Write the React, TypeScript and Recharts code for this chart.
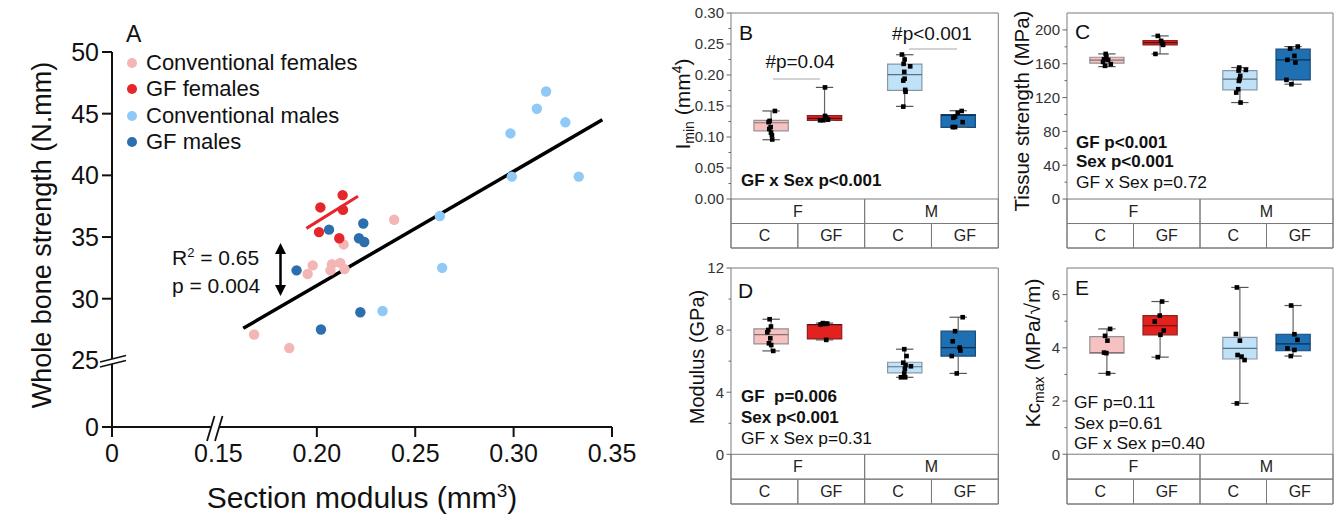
import React from 'react';
import { ScatterChart, Scatter, XAxis, YAxis, ReferenceLine, ReferenceArea, Legend } from 'recharts';

const FONT = '"Liberation Sans", Arial, Helvetica, sans-serif';

// ---------- Panel A: section modulus (mm3) vs whole bone strength (N.mm)
const convFemales = [
  { x: 0.2393, y: 36.4 }, { x: 0.2136, y: 34.4 }, { x: 0.1979, y: 32.7 }, { x: 0.1953, y: 32.0 },
  { x: 0.2077, y: 32.8 }, { x: 0.2119, y: 32.9 }, { x: 0.2069, y: 32.3 }, { x: 0.2141, y: 32.4 },
  { x: 0.1681, y: 27.1 }, { x: 0.186, y: 26.0 },
];
const gfFemales = [
  { x: 0.2131, y: 38.4 }, { x: 0.2018, y: 37.4 }, { x: 0.2133, y: 37.2 }, { x: 0.2011, y: 35.4 },
  { x: 0.2114, y: 34.9 },
];
const convMales = [
  { x: 0.3165, y: 46.8 }, { x: 0.3118, y: 45.4 }, { x: 0.3263, y: 44.3 }, { x: 0.2984, y: 43.4 },
  { x: 0.2991, y: 39.9 }, { x: 0.3331, y: 39.9 }, { x: 0.2625, y: 36.7 }, { x: 0.2637, y: 32.5 },
  { x: 0.2334, y: 29.0 },
];
const gfMales = [
  { x: 0.2062, y: 35.6 }, { x: 0.2236, y: 36.1 }, { x: 0.2214, y: 34.9 }, { x: 0.2241, y: 34.6 },
  { x: 0.1897, y: 32.3 }, { x: 0.2221, y: 28.9 }, { x: 0.2021, y: 27.5 },
];
const legendOrder = ['Conventional females', 'GF females', 'Conventional males', 'GF males'];
// regression lines (end points)
const fitAll = [{ x: 0.1626, y: 27.6 }, { x: 0.3451, y: 44.5 }];
const fitGfFemales = [{ x: 0.1947, y: 35.7 }, { x: 0.2209, y: 38.3 }];

// broken axes: where "0" sits on each axis
const X_ZERO = 0.0959;
const Y_ZERO = 19.6;
const xTicksA = [X_ZERO, 0.15, 0.2, 0.25, 0.3, 0.35];
const yTicksA = [Y_ZERO, 25, 30, 35, 40, 45, 50];

const PINK = '#f4b5b5';
const RED = '#e5262b';
const LBLUE = '#8ec9f7';
const DBLUE = '#2b6fae';

// ---------- Panels B-E: box plots, groups F-C, F-GF, M-C, M-GF
type Box = [number, number, number, number, number]; // min, q1, median, q3, max
type Pts = [number, number][]; // [x jitter, value]

const GROUP_X = [0.6, 1.4, 2.6, 3.4];
const BOX_HALF = 0.257;
const CAP_HALF = 0.13;
const GROUP_FILL = ['#f7c1c1', '#e3211f', '#bfe2f8', '#1f6fb3'];
const GROUP_STROKE = ['#939393', '#8a2222', '#8a98a6', '#1a4a78'];
const MEDIAN_STROKE = ['#8a7070', '#5a1010', '#5a6f80', '#0d2f50'];
const FRAME = '#7a7a7a';

// B: I min (mm4)
const iminBoxes: Box[] = [
  [0.0956, 0.11, 0.123, 0.1268, 0.142],
  [0.1268, 0.1268, 0.13, 0.1344, 0.18],
  [0.1494, 0.1752, 0.2005, 0.2177, 0.2327],
  [0.1155, 0.1155, 0.135, 0.136, 0.1424],
];
const iminCF: Pts = [[0.057, 0.142], [-0.022, 0.126], [-0.037, 0.124], [-0.007, 0.116], [-0.027, 0.113], [-0.002, 0.107], [0.012, 0.103], [0.017, 0.096]];
const iminGFF: Pts = [[0.007, 0.18], [0.007, 0.134], [0.027, 0.131], [0.052, 0.128], [-0.067, 0.127], [-0.017, 0.127]];
const iminCM: Pts = [[-0.042, 0.233], [-0.002, 0.225], [-0.017, 0.218], [0.082, 0.214], [-0.007, 0.205], [-0.002, 0.194], [-0.022, 0.191], [0.007, 0.176], [0.012, 0.173], [-0.022, 0.149]];
const iminGFM: Pts = [[0.052, 0.142], [-0.007, 0.139], [-0.047, 0.133], [-0.072, 0.131], [0.067, 0.124], [-0.082, 0.116], [-0.047, 0.116]];

// C: tissue strength (MPa)
const strBoxes: Box[] = [
  [156.6, 160.7, 164.2, 167.7, 171.6],
  [171.6, 182.3, 185, 187.4, 192.9],
  [114.1, 129.1, 141.8, 151.9, 155.5],
  [135.8, 140.9, 164.6, 177.2, 180.3],
];
const strCF: Pts = [[-0.018, 171.6], [-0.008, 168.5], [-0.043, 165.4], [0.018, 164.6], [-0.058, 162.2], [0.058, 159.5], [-0.028, 157.5]];
const strGFF: Pts = [[-0.035, 192.9], [0.015, 187], [0.03, 184.3], [0.045, 182.3], [-0.07, 171.6]];
const strCM: Pts = [[-0.01, 155.5], [0.09, 152.7], [-0.02, 151.9], [0.005, 145.7], [-0.005, 141.8], [-0.015, 139.7], [-0.025, 129.9], [-0.055, 125.9], [0.01, 114.1]];
const strGFM: Pts = [[0.07, 180.3], [-0.045, 177.9], [0.02, 169.3], [-0.085, 164.6], [0.035, 161.4], [-0.1, 140.9], [-0.025, 135.8]];

// D: modulus (GPa)
const modBoxes: Box[] = [
  [6.66, 7.11, 7.71, 8.08, 8.7],
  [7.37, 7.43, 8.35, 8.36, 8.45],
  [4.96, 5.25, 5.64, 5.93, 6.77],
  [5.21, 6.33, 6.87, 7.93, 8.83],
];
const modCF: Pts = [[-0.022, 8.7], [-0.002, 8.23], [-0.042, 8.01], [-0.057, 7.86], [-0.012, 7.47], [-0.032, 7.15], [0.002, 7.04], [0.032, 6.66]];
const modGFF: Pts = [[-0.06, 8.36], [-0.025, 8.45], [0.04, 8.42], [0.015, 8.4], [0.025, 7.37]];
const modCM: Pts = [[-0.007, 6.77], [0.027, 6.33], [-0.022, 5.9], [0.012, 5.75], [0.092, 5.67], [0.002, 5.49], [-0.007, 5.21], [-0.057, 4.96], [0.007, 4.96]];
const modGFM: Pts = [[0.067, 8.83], [-0.047, 7.93], [-0.082, 7.28], [0.022, 6.87], [0.032, 6.68], [-0.097, 6.33], [-0.022, 5.21]];

// E: Kc max (MPa/sqrt m)
const kcBoxes: Box[] = [
  [3.04, 3.8, 3.82, 4.42, 4.71],
  [3.65, 4.49, 4.83, 5.21, 5.74],
  [1.91, 3.58, 3.98, 4.39, 6.27],
  [3.69, 3.89, 4.15, 4.51, 5.59],
];
const kcCF: Pts = [[0.048, 4.71], [-0.028, 4.45], [0.008, 4.27], [-0.043, 3.82], [-0.008, 3.8], [0.018, 3.04]];
const kcGFF: Pts = [[0.03, 5.74], [-0.005, 5.21], [-0.08, 4.99], [0.055, 4.65], [0.005, 4.49], [-0.035, 3.65]];
const kcCM: Pts = [[-0.045, 6.27], [-0.06, 4.52], [0, 4.27], [-0.035, 3.73], [0.025, 3.67], [0.07, 3.54], [-0.045, 1.91]];
const kcGFM: Pts = [[-0.03, 5.59], [0.02, 4.51], [0.065, 4.3], [-0.085, 3.98], [0.02, 3.92], [-0.035, 3.69]];

const dot = (color: string) => (p: any) => <circle cx={p.cx} cy={p.cy} r={5.2} fill={color} />;
const square = (p: any) => <rect x={p.cx - 2.3} y={p.cy - 2.3} width={4.6} height={4.6} fill="#000" />;

const renderXTickA = (p: any) => {
  const v = p.payload.value;
  return (
    <g>
      {v !== 0.15 && <line x1={p.x} x2={p.x} y1={p.y} y2={p.y + 10} stroke="#111" strokeWidth={2} />}
      <text x={p.x} y={p.y + 35} textAnchor="middle" fontSize={25} fill="#111" fontFamily={FONT}>
        {v === X_ZERO ? '0' : v.toFixed(2)}
      </text>
    </g>
  );
};

const renderYTickA = (p: any) => {
  const v = p.payload.value;
  return (
    <g>
      {v !== 25 && <line x1={p.x} x2={p.x - 10} y1={p.y} y2={p.y} stroke="#111" strokeWidth={2} />}
      <text x={p.x - 13} y={p.y + 9} textAnchor="end" fontSize={25} fill="#111" fontFamily={FONT}>
        {v === Y_ZERO ? '0' : String(v)}
      </text>
    </g>
  );
};

const renderLegendA = (props: any) => {
  const items = [...(props.payload || [])].sort(
    (a: any, b: any) => legendOrder.indexOf(a.value) - legendOrder.indexOf(b.value),
  );
  return (
    <div style={{ fontFamily: FONT, fontSize: 22, color: '#111' }}>
      {items.map((e: any) => (
        <div key={e.value} style={{ display: 'flex', alignItems: 'center', height: 26.3 }}>
          <span style={{ width: 10, height: 10, borderRadius: 5, background: e.color, marginRight: 9, flex: 'none' }} />
          <span style={{ whiteSpace: 'nowrap' }}>{e.value}</span>
        </div>
      ))}
    </div>
  );
};

function PanelA() {
  return (
    <div style={{ position: 'absolute', left: 0, top: 0 }}>
      <ScatterChart width={640} height={523} margin={{ top: 52, right: 28, bottom: 0, left: 0 }}>
        <XAxis
          type="number"
          dataKey="x"
          domain={[X_ZERO, 0.35]}
          ticks={xTicksA}
          interval={0}
          height={96}
          allowDataOverflow
          tickSize={0}
          tickMargin={0}
          tickLine={false}
          axisLine={{ stroke: '#111', strokeWidth: 2 }}
          tick={renderXTickA}
        />
        <YAxis
          type="number"
          dataKey="y"
          domain={[Y_ZERO, 50]}
          ticks={yTicksA}
          interval={0}
          width={112}
          allowDataOverflow
          tickSize={0}
          tickMargin={0}
          tickLine={false}
          axisLine={{ stroke: '#111', strokeWidth: 2 }}
          tick={renderYTickA}
        />
        <Legend
          layout="vertical"
          align="center"
          verticalAlign="middle"
          content={renderLegendA}
          wrapperStyle={{ left: 127, top: 50, width: 280 }}
        />
        <ReferenceLine segment={fitAll} stroke="#000" strokeWidth={3.5} />
        <ReferenceLine segment={fitGfFemales} stroke={RED} strokeWidth={3} />
        <Scatter name="Conventional females" data={convFemales} fill={PINK} shape={dot(PINK)} isAnimationActive={false} />
        <Scatter name="GF females" data={gfFemales} fill={RED} shape={dot(RED)} isAnimationActive={false} />
        <Scatter name="Conventional males" data={convMales} fill={LBLUE} shape={dot(LBLUE)} isAnimationActive={false} />
        <Scatter name="GF males" data={gfMales} fill={DBLUE} shape={dot(DBLUE)} isAnimationActive={false} />
      </ScatterChart>
    </div>
  );
}

interface PanelProps {
  left: number;
  top: number;
  width: number;
  height: number;
  yMin: number;
  yTop: number;
  major: number[];
  minor: number[];
  fmt: (v: number) => string;
  boxes: Box[];
  points: Pts[];
}

function BoxPanel({ left, top, width, height, yMin, yTop, major, minor, fmt, boxes, points }: PanelProps) {
  const row = yMin / 2;
  const renderTick = (p: any) => {
    const v = p.payload.value;
    const isMajor = major.includes(v);
    return (
      <g>
        <line x1={p.x} x2={p.x - (isMajor ? 4.5 : 2.5)} y1={p.y} y2={p.y} stroke="#666" />
        {isMajor && (
          <text x={p.x - 7} y={p.y + 5.3} textAnchor="end" fontSize={15} fill="#333" fontFamily={FONT}>
            {fmt(v)}
          </text>
        )}
      </g>
    );
  };
  const cellLabel = (value: string) => ({ value, position: 'center' as const, fontSize: 16, fill: '#222', fontFamily: FONT });
  return (
    <div style={{ position: 'absolute', left: left - 60, top: top - 10 }}>
      <ScatterChart width={width + 70} height={height + 20} margin={{ top: 10, right: 10, bottom: 10, left: 0 }}>
        <XAxis type="number" dataKey="x" domain={[0, 4]} hide allowDataOverflow />
        <YAxis
          type="number"
          dataKey="y"
          domain={[yMin, yTop]}
          ticks={[...major, ...minor]}
          interval={0}
          width={60}
          allowDataOverflow
          axisLine={false}
          tickLine={false}
          tickSize={0}
          tickMargin={0}
          tick={renderTick}
        />
        <ReferenceArea x1={0} x2={4} y1={yMin} y2={yTop} fill="none" stroke={FRAME} />
        <ReferenceArea x1={0} x2={2} y1={row} y2={0} fill="none" stroke={FRAME} label={cellLabel('F')} />
        <ReferenceArea x1={2} x2={4} y1={row} y2={0} fill="none" stroke={FRAME} label={cellLabel('M')} />
        <ReferenceArea x1={0} x2={1} y1={yMin} y2={row} fill="none" stroke={FRAME} label={cellLabel('C')} />
        <ReferenceArea x1={1} x2={2} y1={yMin} y2={row} fill="none" stroke={FRAME} label={cellLabel('GF')} />
        <ReferenceArea x1={2} x2={3} y1={yMin} y2={row} fill="none" stroke={FRAME} label={cellLabel('C')} />
        <ReferenceArea x1={3} x2={4} y1={yMin} y2={row} fill="none" stroke={FRAME} label={cellLabel('GF')} />
        {boxes.map((b, i) => {
          const c = GROUP_X[i];
          const [mn, q1, md, q3, mx] = b;
          return [
            <ReferenceLine key={`wu${i}`} segment={[{ x: c, y: q3 }, { x: c, y: mx }]} stroke="#666" strokeWidth={1.2} />,
            <ReferenceLine key={`wl${i}`} segment={[{ x: c, y: mn }, { x: c, y: q1 }]} stroke="#666" strokeWidth={1.2} />,
            <ReferenceLine key={`cu${i}`} segment={[{ x: c - CAP_HALF, y: mx }, { x: c + CAP_HALF, y: mx }]} stroke="#555" strokeWidth={1.2} />,
            <ReferenceLine key={`cl${i}`} segment={[{ x: c - CAP_HALF, y: mn }, { x: c + CAP_HALF, y: mn }]} stroke="#555" strokeWidth={1.2} />,
            <ReferenceArea key={`bx${i}`} x1={c - BOX_HALF} x2={c + BOX_HALF} y1={q1} y2={q3} fill={GROUP_FILL[i]} fillOpacity={1} stroke={GROUP_STROKE[i]} strokeWidth={1.2} />,
            <ReferenceLine key={`md${i}`} segment={[{ x: c - BOX_HALF, y: md }, { x: c + BOX_HALF, y: md }]} stroke={MEDIAN_STROKE[i]} strokeWidth={1.2} />,
          ];
        })}
        {points.map((pts, i) => (
          <Scatter
            key={`pt${i}`}
            data={pts.map(([dx, v]) => ({ x: GROUP_X[i] + dx, y: v }))}
            fill="#000"
            shape={square}
            isAnimationActive={false}
          />
        ))}
      </ScatterChart>
    </div>
  );
}

function Overlay() {
  const bold = { fontWeight: 700 } as const;
  return (
    <svg
      width={1342}
      height={523}
      style={{ position: 'absolute', left: 0, top: 0, pointerEvents: 'none' }}
      fontFamily={FONT}
      fill="#111"
    >
      {/* panel A */}
      <text x={126} y={41.7} fontSize={23}>A</text>
      <text transform="translate(51,235) rotate(-90)" textAnchor="middle" fontSize={27}>Whole bone strength (N.mm)</text>
      <text x={362} y={508} textAnchor="middle" fontSize={30}>
        Section modulus (mm<tspan dy={-11} fontSize={19}>3</tspan><tspan dy={11}>)</tspan>
      </text>
      <text x={172} y={265} fontSize={21}>
        R<tspan dy={-8} fontSize={13}>2</tspan><tspan dy={8}> = 0.65</tspan>
      </text>
      <text x={172} y={293} fontSize={21}>p = 0.004</text>
      <line x1={280.5} x2={280.5} y1={250} y2={289} stroke="#000" strokeWidth={2.5} />
      <polygon points="280.5,243 275,254 286,254" fill="#000" />
      <polygon points="280.5,296 275,285 286,285" fill="#000" />
      {/* axis breaks */}
      <polygon points="100,362 126,355.5 126,360.5 100,367" fill="#fff" />
      <line x1={100} y1={362} x2={126} y2={355.5} stroke="#111" strokeWidth={1.8} />
      <line x1={100} y1={367} x2={126} y2={360.5} stroke="#111" strokeWidth={1.8} />
      <polygon points="207,441 214.5,416 222.5,416 215,441" fill="#fff" />
      <line x1={207} y1={441} x2={214.5} y2={416} stroke="#111" strokeWidth={1.8} />
      <line x1={215} y1={441} x2={222.5} y2={416} stroke="#111" strokeWidth={1.8} />

      {/* panel B */}
      <text x={739} y={40} fontSize={21}>B</text>
      <text transform="translate(690,104) rotate(-90)" textAnchor="middle" fontSize={21}>
        I<tspan fontSize={14} dy={4}>min</tspan><tspan dy={-4}> (mm</tspan><tspan fontSize={14} dy={-8}>4</tspan><tspan dy={8}>)</tspan>
      </text>
      <text x={800} y={68} textAnchor="middle" fontSize={19}>#p=0.04</text>
      <line x1={773} x2={820} y1={79} y2={79} stroke="#c4c4c4" strokeWidth={1.5} />
      <text x={932} y={40} textAnchor="middle" fontSize={19}>#p&lt;0.001</text>
      <line x1={909} x2={957} y1={49} y2={49} stroke="#c4c4c4" strokeWidth={1.5} />
      <text x={741} y={186} fontSize={17} {...bold}>GF x Sex p&lt;0.001</text>

      {/* panel C */}
      <text x={1075} y={39} fontSize={21}>C</text>
      <text transform="translate(1029,111) rotate(-90)" textAnchor="middle" fontSize={20.5}>Tissue strength (MPa)</text>
      <text x={1076} y={148} fontSize={17} {...bold}>GF p&lt;0.001</text>
      <text x={1076} y={167} fontSize={17} {...bold}>Sex p&lt;0.001</text>
      <text x={1076} y={188} fontSize={17.4}>GF x Sex p=0.72</text>

      {/* panel D */}
      <text x={738} y={298} fontSize={21}>D</text>
      <text transform="translate(704,357) rotate(-90)" textAnchor="middle" fontSize={20}>Modulus (GPa)</text>
      <text x={741} y={402} fontSize={17} {...bold} style={{ whiteSpace: 'pre' }}>GF  p=0.006</text>
      <text x={741} y={423} fontSize={17} {...bold}>Sex p&lt;0.001</text>
      <text x={741} y={444} fontSize={17.4}>GF x Sex p=0.31</text>

      {/* panel E */}
      <text x={1075} y={295} fontSize={21}>E</text>
      <text transform="translate(1040,353) rotate(-90)" textAnchor="middle" fontSize={21}>
        Kc<tspan fontSize={14} dy={4}>max</tspan><tspan dy={-4}> (MPa/√m)</tspan>
      </text>
      <text x={1074} y={408} fontSize={17.4}>GF p=0.11</text>
      <text x={1074} y={429} fontSize={17.4}>Sex p=0.61</text>
      <text x={1074} y={449} fontSize={17.4}>GF x Sex p=0.40</text>
    </svg>
  );
}

export default function App() {
  return (
    <div style={{ position: 'absolute', left: 0, top: 0, width: 1342, height: 523, background: '#fff', fontFamily: FONT }}>
      <PanelA />
      <BoxPanel
        left={731} top={13.3} width={267.3} height={235}
        yMin={-0.079} yTop={0.3}
        major={[0, 0.05, 0.1, 0.15, 0.2, 0.25, 0.3]}
        minor={[0.025, 0.075, 0.125, 0.175, 0.225, 0.275]}
        fmt={(v) => v.toFixed(2)}
        boxes={iminBoxes}
        points={[iminCF, iminGFF, iminCM, iminGFM]}
      />
      <BoxPanel
        left={1066.7} top={13.3} width={266} height={235}
        yMin={-57.9} yTop={220}
        major={[0, 40, 80, 120, 160, 200]}
        minor={[20, 60, 100, 140, 180]}
        fmt={(v) => String(v)}
        boxes={strBoxes}
        points={[strCF, strGFF, strCM, strGFM]}
      />
      <BoxPanel
        left={731} top={268.3} width={267.3} height={236}
        yMin={-3.2} yTop={12}
        major={[0, 4, 8, 12]}
        minor={[2, 6, 10]}
        fmt={(v) => String(v)}
        boxes={modBoxes}
        points={[modCF, modGFF, modCM, modGFM]}
      />
      <BoxPanel
        left={1066.7} top={268.3} width={266} height={236}
        yMin={-1.87} yTop={7}
        major={[0, 2, 4, 6]}
        minor={[1, 3, 5]}
        fmt={(v) => String(v)}
        boxes={kcBoxes}
        points={[kcCF, kcGFF, kcCM, kcGFM]}
      />
      <Overlay />
    </div>
  );
}
